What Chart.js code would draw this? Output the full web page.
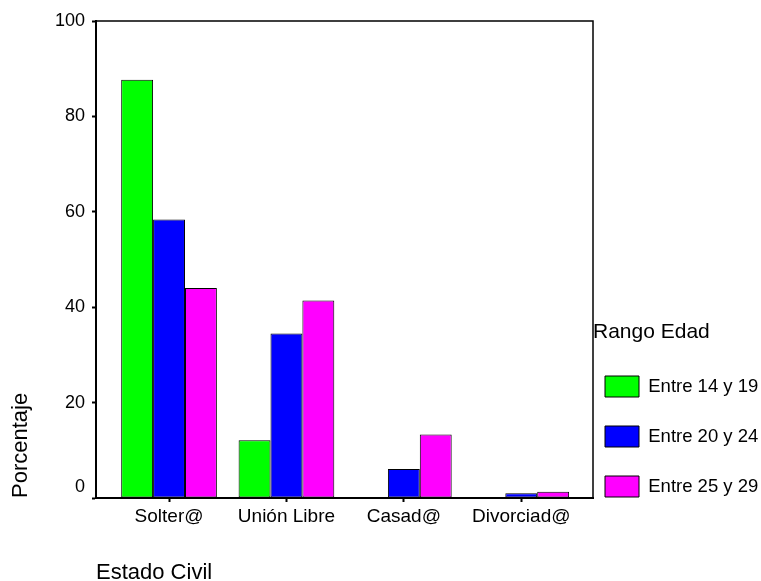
<!DOCTYPE html>
<html>
<head>
<meta charset="utf-8">
<script src="https://cdn.jsdelivr.net/npm/chart.js@4/dist/chart.umd.min.js"></script>
<style>
  html, body { margin: 0; padding: 0; background: #ffffff; }
  #wrap { width: 761px; height: 581px; }
</style>
</head>
<body>
<div id="wrap"><canvas id="c" width="761" height="581"></canvas></div>
<script>
// ---- data ----
const categories = ['Solter@', 'Unión Libre', 'Casad@', 'Divorciad@'];
const seriesNames = ['Entre 14 y 19', 'Entre 20 y 24', 'Entre 25 y 29'];
const entre14y19 = [87.7, 12.1, 0, 0];
const entre20y24 = [58.4, 34.5, 6.1, 1.0];
const entre25y29 = [44.0, 41.4, 13.3, 1.3];
const yTicks = [0, 20, 40, 60, 80, 100];
const xTitle = 'Estado Civil';
const yTitle = 'Porcentaje';
const legendTitle = 'Rango Edad';

const FONT = '"Liberation Sans", Arial, Helvetica, sans-serif';
Chart.defaults.font.family = FONT;
Chart.defaults.color = '#000000';

const colors = ['#00ff00', '#0000ff', '#ff00ff'];
const seriesValues = [entre14y19, entre20y24, entre25y29];

const frame = {
  id: 'frame',
  afterDatasetsDraw(chart) {
    const a = chart.chartArea, ctx = chart.ctx;
    ctx.save();
    ctx.strokeStyle = '#000';
    ctx.lineWidth = 1.5;
    ctx.strokeRect(a.left, a.top, a.right - a.left, a.bottom - a.top);
    ctx.restore();
  }
};

new Chart(document.getElementById('c'), {
  type: 'bar',
  data: {
    labels: categories.map((_, i) => i),
    datasets: seriesNames.map((name, k) => ({
      label: name,
      data: seriesValues[k],
      backgroundColor: colors[k],
      borderColor: '#000000',
      borderWidth: 1,
      borderSkipped: false,
      categoryPercentage: 0.815,
      barPercentage: 1.0
    }))
  },
  options: {
    responsive: false,
    animation: false,
    devicePixelRatio: 1,
    layout: { padding: { left: 0, top: 21, right: 0, bottom: 0 } },
    plugins: {
      tooltip: { enabled: false },
      legend: {
        position: 'right',
        align: 'start',
        maxWidth: 168,
        title: {
          display: true,
          text: legendTitle,
          position: 'start',
          font: { size: 21 },
          padding: { top: 301, bottom: 16.8 }
        },
        labels: {
          boxWidth: 34,
          boxHeight: 21,
          padding: 12,
          color: '#000',
          font: { size: 18.5, lineHeight: 38 / 18.5 },
          generateLabels(chart) {
            const items = Chart.defaults.plugins.legend.labels.generateLabels(chart);
            return items.map(it => Object.assign(it, { text: [it.text], lineWidth: 1, strokeStyle: '#000' }));
          }
        }
      }
    },
    scales: {
      x: {
        type: 'linear',
        offset: false,
        min: -0.622,
        max: 3.611,
        afterFit(scale) { scale.height = 83; },
        ticks: {
          stepSize: 1,
          includeBounds: false,
          autoSkip: false,
          maxRotation: 0,
          padding: 3,
          font: { size: 19 },
          color: '#000',
          callback: (v) => categories[v] !== undefined ? categories[v] : ''
        },
        grid: { offset: false, drawOnChartArea: false, drawTicks: true, tickLength: 4, tickColor: '#000', tickWidth: 2 },
        border: { display: true, color: '#000', width: 2 },
        title: {
          display: true,
          text: xTitle,
          align: 'start',
          font: { size: 22 },
          padding: { top: 0, bottom: -5 }
        }
      },
      y: {
        min: 0,
        max: 100,
        afterFit(scale) { scale.width = 96; },
        afterBuildTicks(scale) { scale.ticks = yTicks.map(v => ({ value: v })); },
        ticks: {
          stepSize: 20,
          padding: 7,
          font: { size: 18 },
          color: '#000',
          callback: (v) => v === 0 ? ['0', ''] : String(v)
        },
        grid: { drawOnChartArea: false, drawTicks: true, tickLength: 4, tickColor: '#000', tickWidth: 2 },
        border: { display: true, color: '#000', width: 2 },
        title: {
          display: true,
          text: yTitle,
          align: 'start',
          font: { size: 22 },
          padding: { top: 7.3, bottom: 0 }
        }
      }
    }
  },
  plugins: [frame]
});
</script>
</body>
</html>
